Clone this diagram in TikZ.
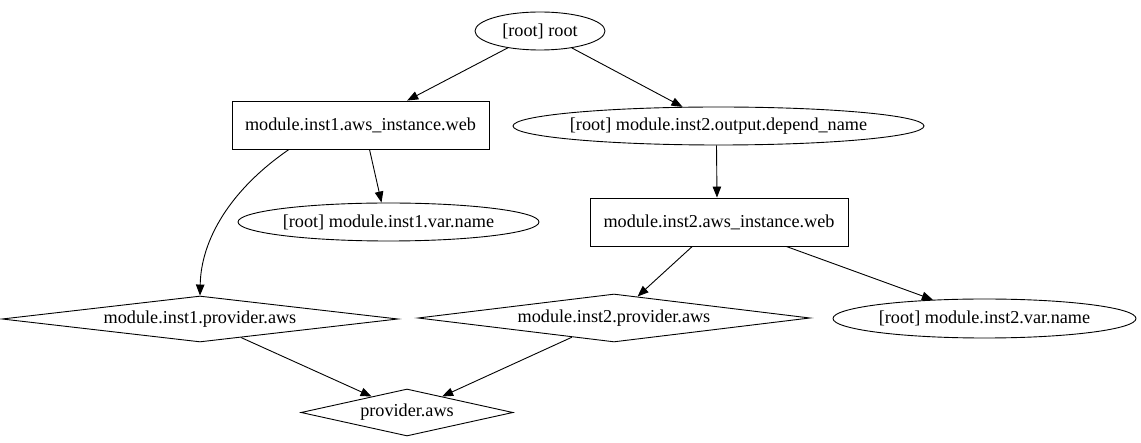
\documentclass[tikz,border=0pt]{standalone}
\usepackage{fontspec}
\setmainfont{Liberation Serif}
\usetikzlibrary{shapes.geometric,arrows.meta}
\begin{document}
\begin{tikzpicture}[x=1pt,y=-1pt,
  font=\fontsize{18.2}{21}\selectfont,
  every node/.style={draw,black,line width=0.9pt,inner sep=0pt},
  ell/.style={ellipse,inner xsep=-40pt},
  box/.style={rectangle},
  dia/.style={diamond,shape aspect=8.5},
  edge/.style={line width=0.9pt,-{Triangle[length=11pt,width=8.5pt]}}]
\useasboundingbox (0,0) rectangle (1141,443);

\node[ell,minimum width=130,minimum height=38] (root) at (540,31) {[root] root};
\node[box,minimum width=257,minimum height=48] (w1) at (360.5,125) {module.inst1.aws\_instance.web};
\node[ell,minimum width=411,minimum height=38] (out2) at (718.5,126) {[root] module.inst2.output.depend\_name};
\node[ell,minimum width=301,minimum height=38] (v1) at (388.5,222) {[root] module.inst1.var.name};
\node[box,minimum width=258,minimum height=48] (w2) at (719,222) {module.inst2.aws\_instance.web};
\node[dia,minimum width=396,minimum height=46] (p1) at (200,319) {module.inst1.provider.aws};
\node[dia,minimum width=392,minimum height=48] (p2) at (614,318) {module.inst2.provider.aws};
\node[ell,minimum width=303,minimum height=39] (v2) at (984.5,318.5) {[root] module.inst2.var.name};
\node[dia,shape aspect=4.5,minimum width=212,minimum height=47] (paws) at (407,412.5) {provider.aws};

\draw[edge] (root) -- (w1);
\draw[edge] (root) -- (out2);
\draw[edge] ([xshift=-71.5]w1.south) .. controls (230,190) and (201,240) .. (p1.north);
\draw[edge] ([xshift=9]w1.south) -- ([xshift=-7]v1.north);
\draw[edge] ([xshift=-2]out2.south) -- ([xshift=-2]w2.north);
\draw[edge] (w2) -- (p2);
\draw[edge] (w2) -- (v2);
\draw[edge] (p1) -- (paws);
\draw[edge] (p2) -- (paws);
\end{tikzpicture}
\end{document}
